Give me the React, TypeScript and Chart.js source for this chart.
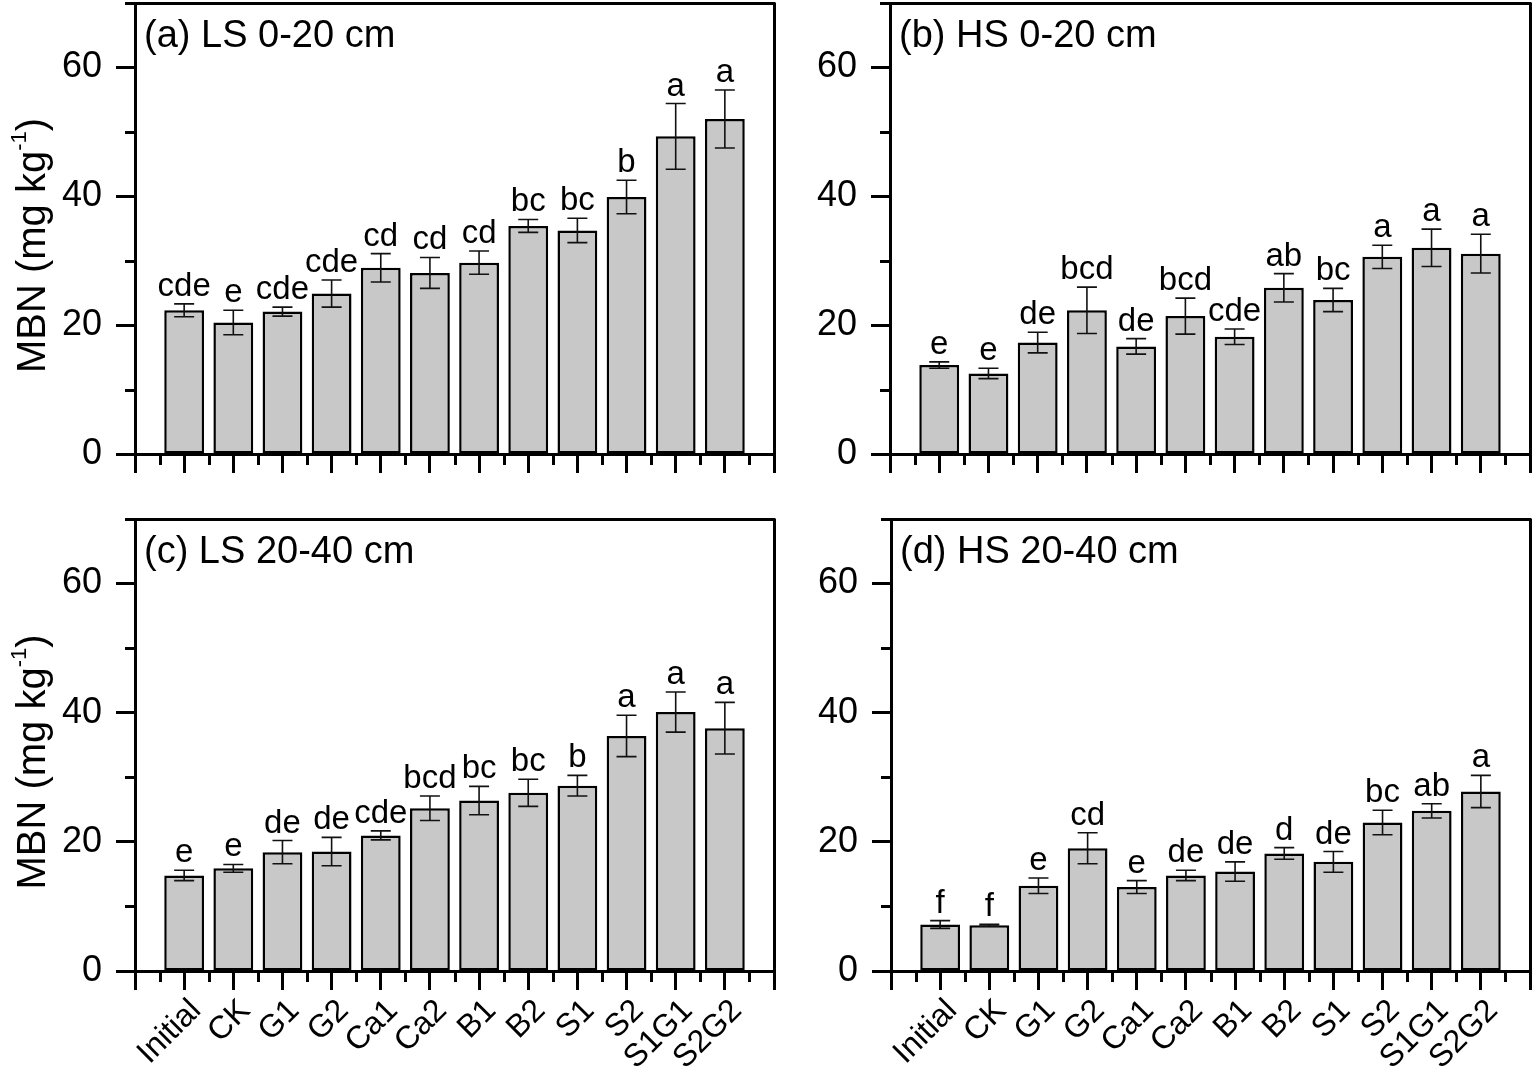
import React, { useEffect, useRef } from 'react';
import { Chart, registerables } from 'chart.js';

Chart.register(...registerables);

const FONT = "'Liberation Sans', Arial, sans-serif";

const CATEGORIES = ['Initial', 'CK', 'G1', 'G2', 'Ca1', 'Ca2', 'B1', 'B2', 'S1', 'S2', 'S1G1', 'S2G2'];

const A_MEAN = [22.3, 20.4, 22.1, 24.9, 28.9, 28.1, 29.7, 35.4, 34.7, 39.9, 49.3, 52.0];
const A_ERR = [1.0, 1.9, 0.7, 2.1, 2.2, 2.4, 1.8, 1.0, 1.9, 2.6, 5.1, 4.5];
const A_LETTERS = ['cde', 'e', 'cde', 'cde', 'cd', 'cd', 'cd', 'bc', 'bc', 'b', 'a', 'a'];

const B_MEAN = [13.8, 12.5, 17.3, 22.3, 16.7, 21.4, 18.2, 25.8, 23.9, 30.6, 32.0, 31.1];
const B_ERR = [0.5, 0.8, 1.6, 3.6, 1.2, 2.8, 1.2, 2.2, 1.8, 1.8, 2.9, 3.0];
const B_LETTERS = ['e', 'e', 'de', 'bcd', 'de', 'bcd', 'cde', 'ab', 'bc', 'a', 'a', 'a'];

const C_MEAN = [14.8, 15.9, 18.4, 18.5, 21.0, 25.2, 26.4, 27.6, 28.7, 36.4, 40.1, 37.6];
const C_ERR = [0.8, 0.6, 1.8, 2.2, 0.7, 1.9, 2.2, 2.1, 1.6, 3.2, 3.1, 4.0];
const C_LETTERS = ['e', 'e', 'de', 'de', 'cde', 'bcd', 'bc', 'bc', 'b', 'a', 'a', 'a'];

const D_MEAN = [7.2, 7.1, 13.2, 19.0, 13.0, 14.8, 15.4, 18.2, 16.9, 23.0, 24.8, 27.8];
const D_ERR = [0.6, 0.15, 1.2, 2.4, 1.0, 0.8, 1.5, 0.9, 1.6, 1.9, 1.1, 2.5];
const D_LETTERS = ['f', 'f', 'e', 'cd', 'e', 'de', 'de', 'd', 'de', 'bc', 'ab', 'a'];

const Y_MAJOR = [0, 20, 40, 60];
const Y_MINOR = [10, 30, 50, 70];
const Y_MAX = 70;
const Y_TITLE = 'MBN (mg kg';
const Y_TITLE_SUP = '-1';

type PanelCfg = {
  title: string;
  mean: number[];
  err: number[];
  letters: string[];
  left: number;
  top: number;
  w: number;
  h: number;
  padTop: number;
  padRight: number;
  yWidth: number;
  xHeight: number;
  showX: boolean;
  showYTitle: boolean;
};

const PANELS: PanelCfg[] = [
  { title: '(a) LS 0-20 cm', mean: A_MEAN, err: A_ERR, letters: A_LETTERS, left: 0, top: 0, w: 780, h: 515, padTop: 3, padRight: 6, yWidth: 135, xHeight: 61, showX: false, showYTitle: true },
  { title: '(b) HS 0-20 cm', mean: B_MEAN, err: B_ERR, letters: B_LETTERS, left: 780, top: 0, w: 754, h: 515, padTop: 3, padRight: 4, yWidth: 110, xHeight: 61, showX: false, showYTitle: false },
  { title: '(c) LS 20-40 cm', mean: C_MEAN, err: C_ERR, letters: C_LETTERS, left: 0, top: 500, w: 780, h: 570, padTop: 19, padRight: 6, yWidth: 135, xHeight: 99, showX: true, showYTitle: true },
  { title: '(d) HS 20-40 cm', mean: D_MEAN, err: D_ERR, letters: D_LETTERS, left: 780, top: 500, w: 754, h: 570, padTop: 19, padRight: 4, yWidth: 111, xHeight: 99, showX: true, showYTitle: false },
];

const X_TICKS = Array.from({ length: CATEGORIES.length + 2 }, (_, i) => i);

function resetPadding(s: any) {
  s.paddingTop = 0;
  s.paddingBottom = 0;
  s.paddingLeft = 0;
  s.paddingRight = 0;
}

function makeDecorPlugin(cfg: PanelCfg) {
  return {
    id: 'decor',
    afterDatasetsDraw(chart: any) {
      const ctx = chart.ctx as CanvasRenderingContext2D;
      const xs = chart.scales.x;
      const ys = chart.scales.y;
      ctx.save();
      ctx.strokeStyle = '#111';
      ctx.lineWidth = 1.6;
      const cap = 10;
      cfg.mean.forEach((m, i) => {
        const x = xs.getPixelForValue(i + 1);
        const yT = ys.getPixelForValue(m + cfg.err[i]);
        const yB = ys.getPixelForValue(m - cfg.err[i]);
        ctx.beginPath();
        ctx.moveTo(x, yT);
        ctx.lineTo(x, yB);
        ctx.moveTo(x - cap, yT);
        ctx.lineTo(x + cap, yT);
        ctx.moveTo(x - cap, yB);
        ctx.lineTo(x + cap, yB);
        ctx.stroke();
      });
      ctx.fillStyle = '#000';
      ctx.font = `33px ${FONT}`;
      ctx.textAlign = 'center';
      ctx.textBaseline = 'alphabetic';
      cfg.letters.forEach((l, i) => {
        const x = xs.getPixelForValue(i + 1);
        const yT = ys.getPixelForValue(cfg.mean[i] + cfg.err[i]);
        ctx.fillText(l, x, yT - 8);
      });
      ctx.restore();
    },
    afterDraw(chart: any) {
      const ctx = chart.ctx as CanvasRenderingContext2D;
      const ca = chart.chartArea;
      const xs = chart.scales.x;
      const ys = chart.scales.y;
      ctx.save();
      ctx.strokeStyle = '#000';
      ctx.lineWidth = 3;
      ctx.beginPath();
      ctx.moveTo(ca.left - 1.5, ca.top + 0.5);
      ctx.lineTo(ca.right + 1.5, ca.top + 0.5);
      ctx.moveTo(ca.right + 0.5, ca.top);
      ctx.lineTo(ca.right + 0.5, ca.bottom + 19);
      ctx.stroke();
      ctx.beginPath();
      Y_MINOR.forEach((v) => {
        const y = Math.round(ys.getPixelForValue(v)) + 0.5;
        ctx.moveTo(ca.left - 10, y);
        ctx.lineTo(ca.left, y);
      });
      for (let i = 0; i < X_TICKS.length - 1; i++) {
        const x = Math.round(xs.getPixelForValue(i + 0.5)) + 0.5;
        ctx.moveTo(x, ca.bottom);
        ctx.lineTo(x, ca.bottom + 11);
      }
      ctx.stroke();
      ctx.fillStyle = '#000';
      ctx.font = `38px ${FONT}`;
      ctx.textAlign = 'left';
      ctx.textBaseline = 'alphabetic';
      ctx.fillText(cfg.title, ca.left + 9, ca.top + 44);
      if (cfg.showYTitle) {
        const cy = (ca.top + ca.bottom) / 2 + 17;
        ctx.translate(45, cy);
        ctx.rotate(-Math.PI / 2);
        ctx.font = `40px ${FONT}`;
        const wMain = ctx.measureText(Y_TITLE).width;
        const wClose = ctx.measureText(')').width;
        ctx.font = `22px ${FONT}`;
        const wSup = ctx.measureText(Y_TITLE_SUP).width;
        let x = -(wMain + wSup + wClose) / 2;
        ctx.font = `40px ${FONT}`;
        ctx.fillText(Y_TITLE, x, 0);
        x += wMain;
        ctx.font = `22px ${FONT}`;
        ctx.fillText(Y_TITLE_SUP, x, -19);
        x += wSup;
        ctx.font = `40px ${FONT}`;
        ctx.fillText(')', x, 0);
      }
      ctx.restore();
    },
  };
}

function Panel({ cfg }: { cfg: PanelCfg }) {
  const ref = useRef<HTMLCanvasElement>(null);
  useEffect(() => {
    const canvas = ref.current!;
    const chart = new Chart(canvas, {
      type: 'bar',
      data: {
        datasets: [
          {
            data: cfg.mean.map((m, i) => ({ x: i + 1, y: m })),
            backgroundColor: '#c8c8c8',
            borderColor: '#000',
            borderWidth: 2.5,
            borderSkipped: false,
            barPercentage: 0.81,
            categoryPercentage: 1,
          } as any,
        ],
      },
      options: {
        responsive: false,
        animation: false,
        events: [],
        layout: { autoPadding: false, padding: { top: cfg.padTop, right: cfg.padRight, left: 0, bottom: 0 } },
        plugins: { legend: { display: false }, tooltip: { enabled: false }, title: { display: false } },
        scales: {
          x: {
            type: 'linear',
            min: 0,
            max: X_TICKS.length - 1,
            offset: false,
            afterBuildTicks: (s: any) => {
              s.ticks = X_TICKS.map((v) => ({ value: v }));
            },
            afterFit: (s: any) => {
              s.height = cfg.xHeight;
              resetPadding(s);
            },
            grid: { offset: false, drawOnChartArea: false, drawTicks: true, tickLength: 19, tickWidth: 3, tickColor: '#000' },
            border: { display: true, color: '#000', width: 3 },
            ticks: {
              autoSkip: false,
              maxRotation: 45,
              minRotation: 45,
              padding: 2,
              labelOffset: 12,
              color: '#000',
              font: { family: FONT, size: 32 },
              callback: (v: any) => (cfg.showX ? CATEGORIES[Number(v) - 1] ?? '' : ''),
            },
          },
          y: {
            type: 'linear',
            min: 0,
            max: Y_MAX,
            afterBuildTicks: (s: any) => {
              s.ticks = Y_MAJOR.map((v) => ({ value: v }));
            },
            afterFit: (s: any) => {
              s.width = cfg.yWidth;
              resetPadding(s);
            },
            grid: { drawOnChartArea: false, drawTicks: true, tickLength: 19, tickWidth: 3, tickColor: '#000' },
            border: { display: true, color: '#000', width: 3 },
            ticks: { padding: 14, color: '#000', font: { family: FONT, size: 36 } },
          },
        },
      } as any,
      plugins: [makeDecorPlugin(cfg)],
    });
    return () => chart.destroy();
  }, [cfg]);
  return (
    <canvas
      ref={ref}
      width={cfg.w}
      height={cfg.h}
      style={{ position: 'absolute', left: cfg.left, top: cfg.top, width: cfg.w, height: cfg.h }}
    />
  );
}

export default function App() {
  return (
    <div style={{ position: 'absolute', left: 0, top: 0, width: 1534, height: 1070, background: '#fff' }}>
      {PANELS.map((p) => (
        <Panel key={p.title} cfg={p} />
      ))}
    </div>
  );
}
